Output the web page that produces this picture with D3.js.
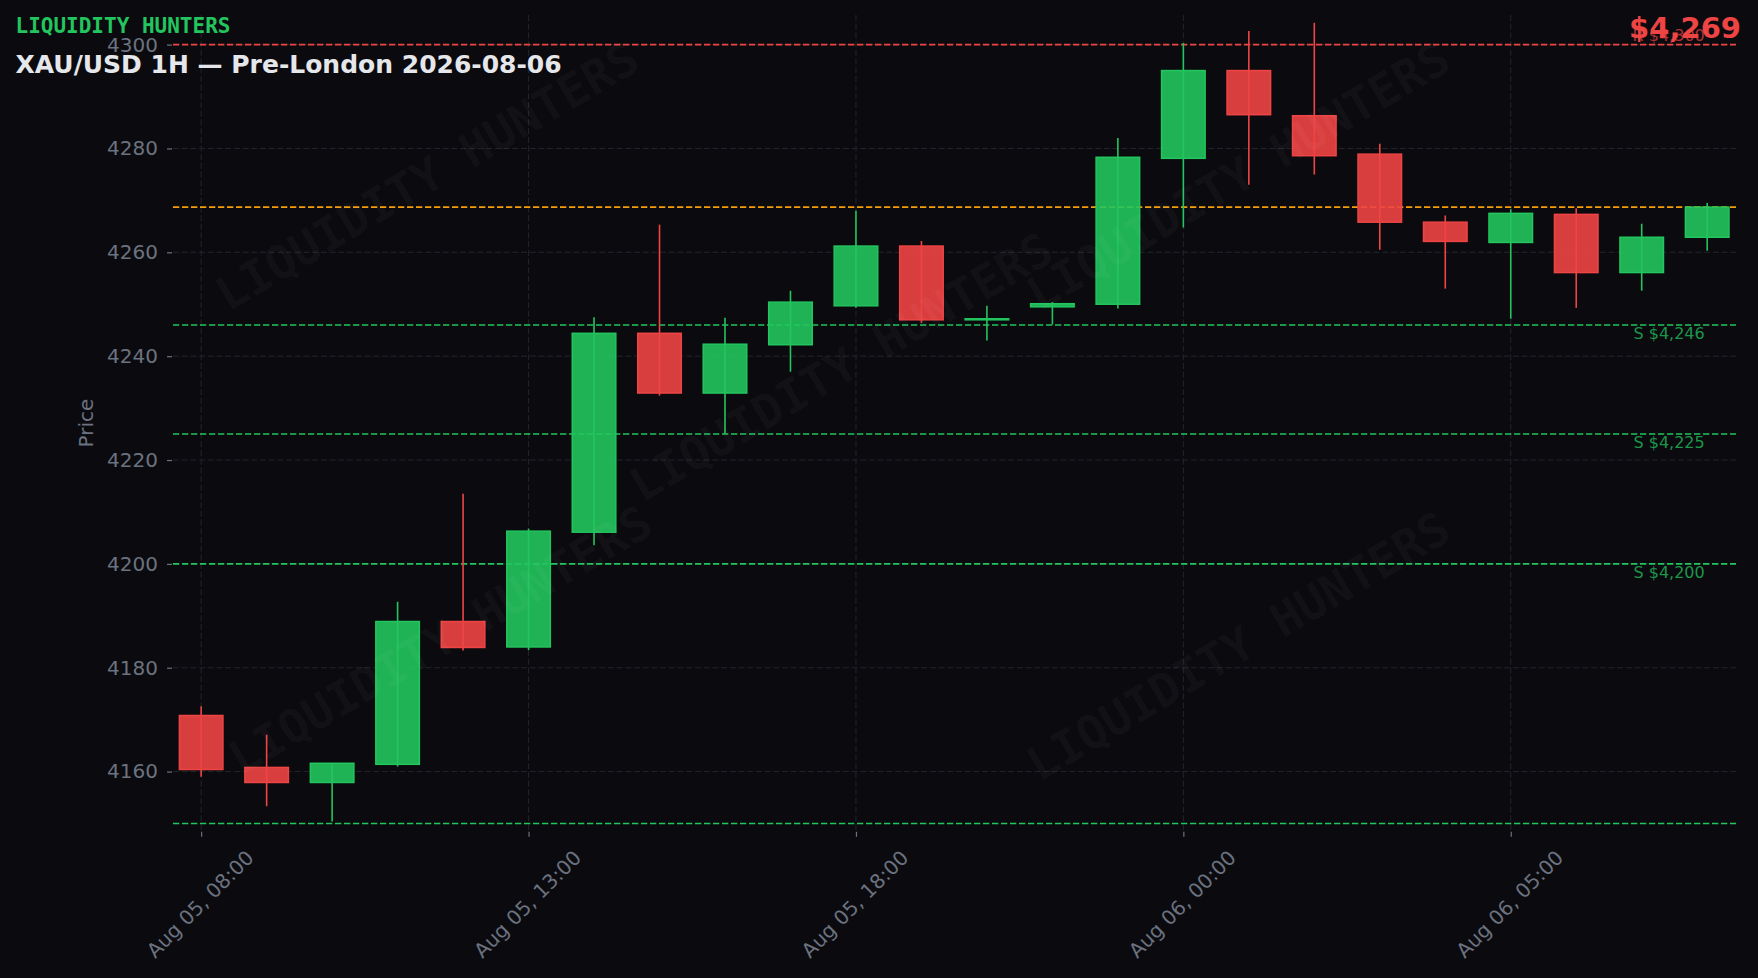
<!DOCTYPE html>
<html>
<head>
<meta charset="utf-8">
<script src="https://cdn.jsdelivr.net/npm/d3@7"></script>
<style>
  html, body { margin: 0; padding: 0; background: #0b0b0f; }
  svg { display: block; }
</style>
</head>
<body>
<script>
// ---------------- DATA ----------------
const categories = [
  "Aug 05, 08:00", "Aug 05, 09:00", "Aug 05, 10:00", "Aug 05, 11:00", "Aug 05, 12:00",
  "Aug 05, 13:00", "Aug 05, 14:00", "Aug 05, 15:00", "Aug 05, 16:00", "Aug 05, 17:00",
  "Aug 05, 18:00", "Aug 05, 19:00", "Aug 05, 20:00", "Aug 05, 22:00", "Aug 05, 23:00",
  "Aug 06, 00:00", "Aug 06, 01:00", "Aug 06, 02:00", "Aug 06, 03:00", "Aug 06, 04:00",
  "Aug 06, 05:00", "Aug 06, 06:00", "Aug 06, 07:00", "Aug 06, 08:00"
];
const openV  = [4170.8, 4160.8, 4157.9, 4161.4, 4188.9, 4184.0, 4206.1, 4244.4, 4232.9, 4242.2,
                4249.7, 4261.2, 4247.0, 4249.5, 4250.0, 4278.1, 4295.0, 4286.3, 4278.9, 4265.8,
                4261.9, 4267.3, 4256.1, 4262.9];
const highV  = [4172.6, 4167.1, 4161.6, 4192.7, 4213.5, 4206.8, 4247.5, 4265.3, 4247.4, 4252.6,
                4268.0, 4262.2, 4249.7, 4250.4, 4282.0, 4300.3, 4302.6, 4304.2, 4280.9, 4267.1,
                4268.3, 4268.5, 4265.5, 4269.5];
const lowV   = [4159.0, 4153.3, 4150.4, 4161.0, 4183.3, 4183.4, 4203.6, 4232.4, 4225.1, 4237.0,
                4249.3, 4246.4, 4243.0, 4246.1, 4249.2, 4264.8, 4273.0, 4275.0, 4260.5, 4253.0,
                4247.2, 4249.3, 4252.6, 4260.3];
const closeV = [4160.4, 4157.9, 4161.6, 4188.9, 4183.9, 4206.3, 4244.4, 4232.9, 4242.3, 4250.4,
                4261.2, 4247.0, 4247.2, 4250.1, 4278.3, 4295.0, 4286.5, 4278.6, 4265.8, 4262.1,
                4267.5, 4256.1, 4262.9, 4268.7];

const resistanceLevels = [4300];
const supportLevels = [4246, 4225, 4200, 4150];
const xTickIndices = [0, 5, 10, 15, 20];
const yTickValues = [4160, 4180, 4200, 4220, 4240, 4260, 4280, 4300];
const yDomain = [4148.5, 4305.7];
const xDomain = [-0.43, 23.44];

const brandText = "LIQUIDITY HUNTERS";
const titleText = "XAU/USD 1H \u2014 Pre-London 2026-08-06";
const yAxisLabel = "Price";

// ---------------- LAYOUT / STYLE ----------------
const W = 1758, H = 978;
const plot = { left: 173, right: 1736, top: 15, bottom: 831.3 };
const BG = "#0b0b0f";
const GREEN = "#22c55e", RED = "#ef4444", ORANGE = "#f59e0b";
const GRID = "#23242c", TICK = "#6b7280";
const FONT = "'DejaVu Sans', sans-serif";
const MONO = "'DejaVu Sans Mono', monospace";

const svg = d3.select("body").append("svg")
  .attr("width", W).attr("height", H)
  .style("background", BG);

svg.append("rect").attr("width", W).attr("height", H).attr("fill", BG);

const x = d3.scaleLinear().domain(xDomain).range([plot.left, plot.right]);
const y = d3.scaleLinear().domain(yDomain).range([plot.bottom, plot.top]);
const step = x(1) - x(0);

svg.append("defs").append("clipPath").attr("id", "plotclip")
  .append("rect")
  .attr("x", plot.left).attr("y", plot.top)
  .attr("width", plot.right - plot.left).attr("height", plot.bottom - plot.top);

// ---------------- GRID ----------------
const grid = svg.append("g");
grid.selectAll("line.hg").data(yTickValues).join("line")
  .attr("x1", plot.left).attr("x2", plot.right)
  .attr("y1", d => y(d)).attr("y2", d => y(d))
  .attr("stroke", GRID).attr("stroke-width", 1).attr("stroke-dasharray", "6,2.7");
grid.selectAll("line.vg").data(xTickIndices).join("line")
  .attr("x1", d => x(d)).attr("x2", d => x(d))
  .attr("y1", plot.top).attr("y2", plot.bottom)
  .attr("stroke", GRID).attr("stroke-width", 1).attr("stroke-dasharray", "6,2.7");

// ---------------- AXES ----------------
const yAxis = d3.axisLeft(y).tickValues(yTickValues).tickSize(5).tickPadding(9)
  .tickFormat(d3.format("d"));
const yg = svg.append("g").attr("transform", `translate(${plot.left - 1},0)`).call(yAxis);
yg.select(".domain").remove();
yg.selectAll(".tick line").attr("stroke", TICK).attr("stroke-width", 1.2);
yg.selectAll(".tick text").attr("fill", TICK).style("font-family", FONT).style("font-size", "20px");

const xAxis = d3.axisBottom(x).tickValues(xTickIndices).tickSize(5)
  .tickFormat(d => categories[d]);
const xg = svg.append("g").attr("transform", `translate(0,${plot.bottom + 0.5})`).call(xAxis);
xg.select(".domain").remove();
xg.selectAll(".tick line").attr("stroke", TICK).attr("stroke-width", 1.2);
xg.selectAll(".tick text")
  .attr("fill", TICK).style("font-family", FONT).style("font-size", "20px")
  .attr("text-anchor", "middle").attr("dominant-baseline", "central")
  .attr("y", 0).attr("dy", null)
  .attr("transform", `translate(-1.5,${904 - plot.bottom - 0.5}) rotate(-45)`);

svg.append("text")
  .attr("transform", `translate(86,${(plot.top + plot.bottom) / 2}) rotate(-90)`)
  .attr("text-anchor", "middle").attr("dominant-baseline", "central")
  .attr("fill", TICK).style("font-family", FONT).style("font-size", "20px")
  .text(yAxisLabel);

// ---------------- LEVEL LINES ----------------
const levels = svg.append("g").attr("clip-path", "url(#plotclip)");
const lastClose = closeV[closeV.length - 1];
const fmt = d3.format(",");
const labelX = plot.left + 0.98 * (plot.right - plot.left);

function levelLine(val, color) {
  levels.append("line")
    .attr("x1", plot.left).attr("x2", plot.right)
    .attr("y1", y(val)).attr("y2", y(val))
    .attr("stroke", color).attr("stroke-width", 1.6).attr("stroke-dasharray", "6.3,2.7");
}
resistanceLevels.forEach(v => {
  levelLine(v, RED);
  levels.append("text")
    .attr("x", labelX).attr("y", y(v) - 4)
    .attr("text-anchor", "end").attr("fill", RED).attr("fill-opacity", 0.7)
    .style("font-family", FONT).style("font-size", "16px")
    .text("R $" + fmt(v));
});
levelLine(lastClose, ORANGE);
supportLevels.forEach(v => {
  levelLine(v, GREEN);
  // labels whose box would cross the plot's bottom edge are clipped away entirely
  if (y(v) + 18 <= plot.bottom) {
    levels.append("text")
      .attr("x", labelX).attr("y", y(v) + 14)
      .attr("text-anchor", "end").attr("fill", GREEN).attr("fill-opacity", 0.75)
      .style("font-family", FONT).style("font-size", "16px")
      .text("S $" + fmt(v));
  }
});

// ---------------- CANDLES ----------------
const candles = categories.map((c, i) => ({
  i, o: openV[i], h: highV[i], l: lowV[i], c: closeV[i]
}));
const bodyW = 0.665 * step;
const cg = svg.append("g").attr("clip-path", "url(#plotclip)");
const colorOf = d => d.c >= d.o ? GREEN : RED;

cg.selectAll("line.wick").data(candles).join("line")
  .attr("x1", d => x(d.i)).attr("x2", d => x(d.i))
  .attr("y1", d => y(d.h)).attr("y2", d => y(d.l))
  .attr("stroke", colorOf).attr("stroke-width", 1.6);

cg.selectAll("rect.body").data(candles).join("rect")
  .attr("x", d => x(d.i) - bodyW / 2)
  .attr("width", bodyW)
  .attr("y", d => y(Math.max(d.o, d.c)))
  .attr("height", d => Math.max(0.3, Math.abs(y(d.o) - y(d.c))))
  .attr("fill", colorOf).attr("fill-opacity", 0.9)
  .attr("stroke", colorOf).attr("stroke-width", 1.5);

// ---------------- WATERMARKS ----------------
const wm = svg.append("g");
const wmPos = [[427, 176], [841, 367], [1238, 176], [440, 640], [1238, 646]];
wm.selectAll("text").data(wmPos).join("text")
  .attr("transform", d => `translate(${d[0]},${d[1]}) rotate(-30.5)`)
  .attr("text-anchor", "middle").attr("dominant-baseline", "central")
  .attr("fill", "#ffffff").attr("fill-opacity", 0.035)
  .style("font-family", MONO).style("font-weight", "bold").style("font-size", "47px")
  .text(brandText);

// ---------------- TITLES ----------------
svg.append("text").attr("x", 15.5).attr("y", 32.5)
  .attr("fill", GREEN).style("font-family", MONO).style("font-weight", "bold")
  .style("font-size", "21px").text(brandText);

svg.append("text").attr("x", 15.5).attr("y", 73)
  .attr("fill", "#e5e7eb").style("font-family", FONT).style("font-weight", "bold")
  .style("font-size", "25px").text(titleText);

svg.append("text").attr("x", 1741).attr("y", 37.5)
  .attr("text-anchor", "end")
  .attr("fill", RED).style("font-family", FONT).style("font-weight", "bold")
  .style("font-size", "29px").text("$" + d3.format(",.0f")(lastClose));
</script>
</body>
</html>
